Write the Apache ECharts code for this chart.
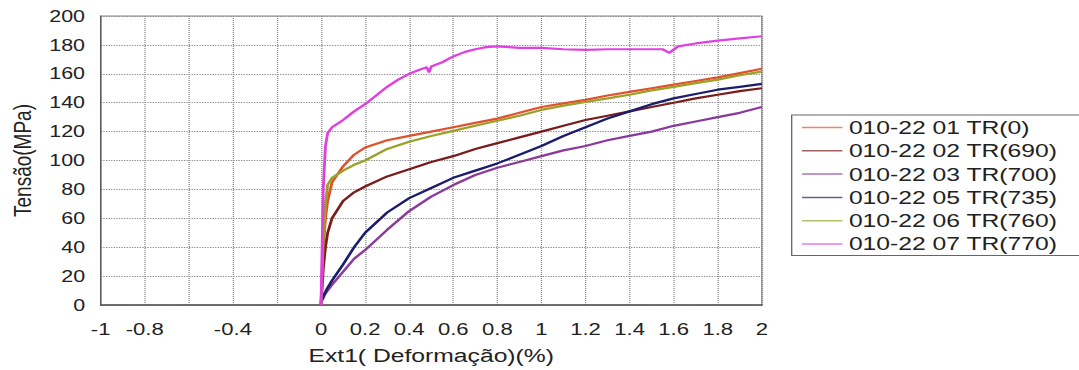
<!DOCTYPE html>
<html>
<head>
<meta charset="utf-8">
<script src="https://cdn.jsdelivr.net/npm/echarts@6/dist/echarts.min.js"></script>
<style>
  html, body { margin: 0; padding: 0; background: #fff; overflow: hidden; }
  /* the source picture is stretched sideways, so the chart is drawn narrower and scaled */
  #chart { width: 830px; height: 370px; transform: scaleX(1.3); transform-origin: 0 0; }
</style>
</head>
<body>
<div id="chart"></div>
<script>
// deformação (%) shared by most curves
var strain = [0, 0.01, 0.02, 0.03, 0.05, 0.1, 0.15, 0.2, 0.3, 0.4, 0.5, 0.6, 0.7, 0.8, 0.9, 1.0, 1.1, 1.2, 1.3, 1.4, 1.5, 1.6, 1.7, 1.8, 1.9, 2.0]

// tensão (MPa)
var tr0   = [0, 40, 60, 72, 85, 96, 104, 109, 114, 117, 120, 123, 126, 129, 133, 137, 139.5, 142, 145, 147.5, 150, 152.5, 155, 157.5, 160.5, 163.5]
var tr690 = [0, 25, 40, 50, 60, 72, 78, 82, 89, 94, 99, 103, 108, 112, 116, 120, 124, 128, 131, 134, 137, 140, 143, 145.5, 148, 150]
var tr700 = [2, 5, 8, 10, 14, 23, 32, 38, 52, 65, 75, 83, 90, 95, 99, 103, 107, 110, 114, 117, 120, 124, 127, 130, 133, 137]
var tr735 = [2, 6, 9, 12, 17, 28, 40, 50, 64, 74, 81, 88, 93, 98, 104, 110, 117, 123, 129, 134, 139, 143, 146, 149, 151, 153]
var tr760 = [0, 45, 70, 83, 88, 93, 97, 100, 108, 113, 117, 120.5, 124, 127.5, 131, 135, 138, 140.5, 143, 145.5, 148.5, 151, 153.5, 156, 159, 161.5]

// TR(770) has its own points because of the two small drops
var strain770 = [0, 0.005, 0.01, 0.02, 0.03, 0.05, 0.1, 0.15, 0.2, 0.25, 0.3, 0.35, 0.4, 0.45, 0.48, 0.49, 0.5, 0.55, 0.6, 0.65, 0.7, 0.75, 0.8, 0.9, 1.0, 1.1, 1.2, 1.3, 1.4, 1.5, 1.55, 1.58, 1.62, 1.7, 1.8, 1.9, 2.0]
var tr770     = [0, 40, 80, 110, 119, 123, 128, 134, 139, 145, 151, 156, 160, 163, 164.5, 161, 165, 168, 172, 175, 177, 178.5, 179, 178, 178, 177, 176.5, 177, 177, 177, 177, 174.5, 179, 181, 183, 184.5, 186]

var names  = ['010-22 01 TR(0)', '010-22 02 TR(690)', '010-22 03 TR(700)', '010-22 05 TR(735)', '010-22 06 TR(760)', '010-22 07 TR(770)']
var colors = ['#e2502c', '#7a1c1c', '#8a3a9a', '#1c1c6e', '#9aa028', '#e040e0']

// x labels that the source leaves out
var hiddenXTicks = [-0.6, -0.2]

function pairs(xs, ys) {
  return xs.map(function (x, i) { return [x, ys[i]] })
}

var curves = [
  pairs(strain, tr0),
  pairs(strain, tr690),
  pairs(strain, tr700),
  pairs(strain, tr735),
  pairs(strain, tr760),
  pairs(strain770, tr770)
]

var font = '"Liberation Sans", Arial, sans-serif'

var chart = echarts.init(document.getElementById('chart'), null, { renderer: 'svg' })

var option = {
  animation: false,
  color: colors,
  grid: {
    left: 68,
    right: 244,
    top: 16,
    bottom: 64,
    show: true,
    borderColor: '#8a8a8a',
    borderWidth: 1
  },
  legend: {
    orient: 'vertical',
    left: 609,
    top: 115,
    data: names,
    icon: 'rect',
    itemWidth: 31,
    itemHeight: 1.5,
    itemGap: 4.3,
    padding: [3, 40, 2, 8],
    borderColor: '#666',
    borderWidth: 1,
    itemStyle: { opacity: 0.7 },
    textStyle: { fontFamily: font, fontSize: 19, lineHeight: 19, color: '#222' }
  },
  xAxis: {
    type: 'value',
    min: -1,
    max: 2,
    interval: 0.2,
    name: 'Ext1( Deformação)(%)',
    nameLocation: 'middle',
    nameGap: 41,
    nameTextStyle: { fontFamily: font, fontSize: 19, color: '#222' },
    axisLine: { onZero: false, lineStyle: { color: '#555', width: 1.5 } },
    axisTick: { show: false },
    axisLabel: {
      margin: 15,
      fontFamily: font,
      fontSize: 17,
      color: '#222',
      formatter: function (v) {
        var r = Math.round(v * 10) / 10
        if (hiddenXTicks.indexOf(r) >= 0) return ''
        return String(r)
      }
    },
    splitLine: { show: true, lineStyle: { type: 'dotted', color: '#888', width: 1 } }
  },
  yAxis: {
    type: 'value',
    min: 0,
    max: 200,
    interval: 20,
    name: 'Tensão(MPa)',
    nameLocation: 'middle',
    nameGap: 42,
    nameTextStyle: { fontFamily: font, fontSize: 19, color: '#222' },
    axisLine: { show: true, onZero: false, lineStyle: { color: '#555', width: 1 } },
    axisTick: { show: false },
    axisLabel: { margin: 12, fontFamily: font, fontSize: 16.5, color: '#222' },
    splitLine: { show: true, lineStyle: { type: 'dotted', color: '#888', width: 1 } }
  },
  series: names.map(function (n, i) {
    return {
      name: n,
      type: 'line',
      data: curves[i],
      showSymbol: false,
      symbol: 'none',
      lineStyle: { width: 2.2 },
      z: i == 5 ? 3 : 2
    }
  })
}

chart.setOption(option)
</script>
</body>
</html>
